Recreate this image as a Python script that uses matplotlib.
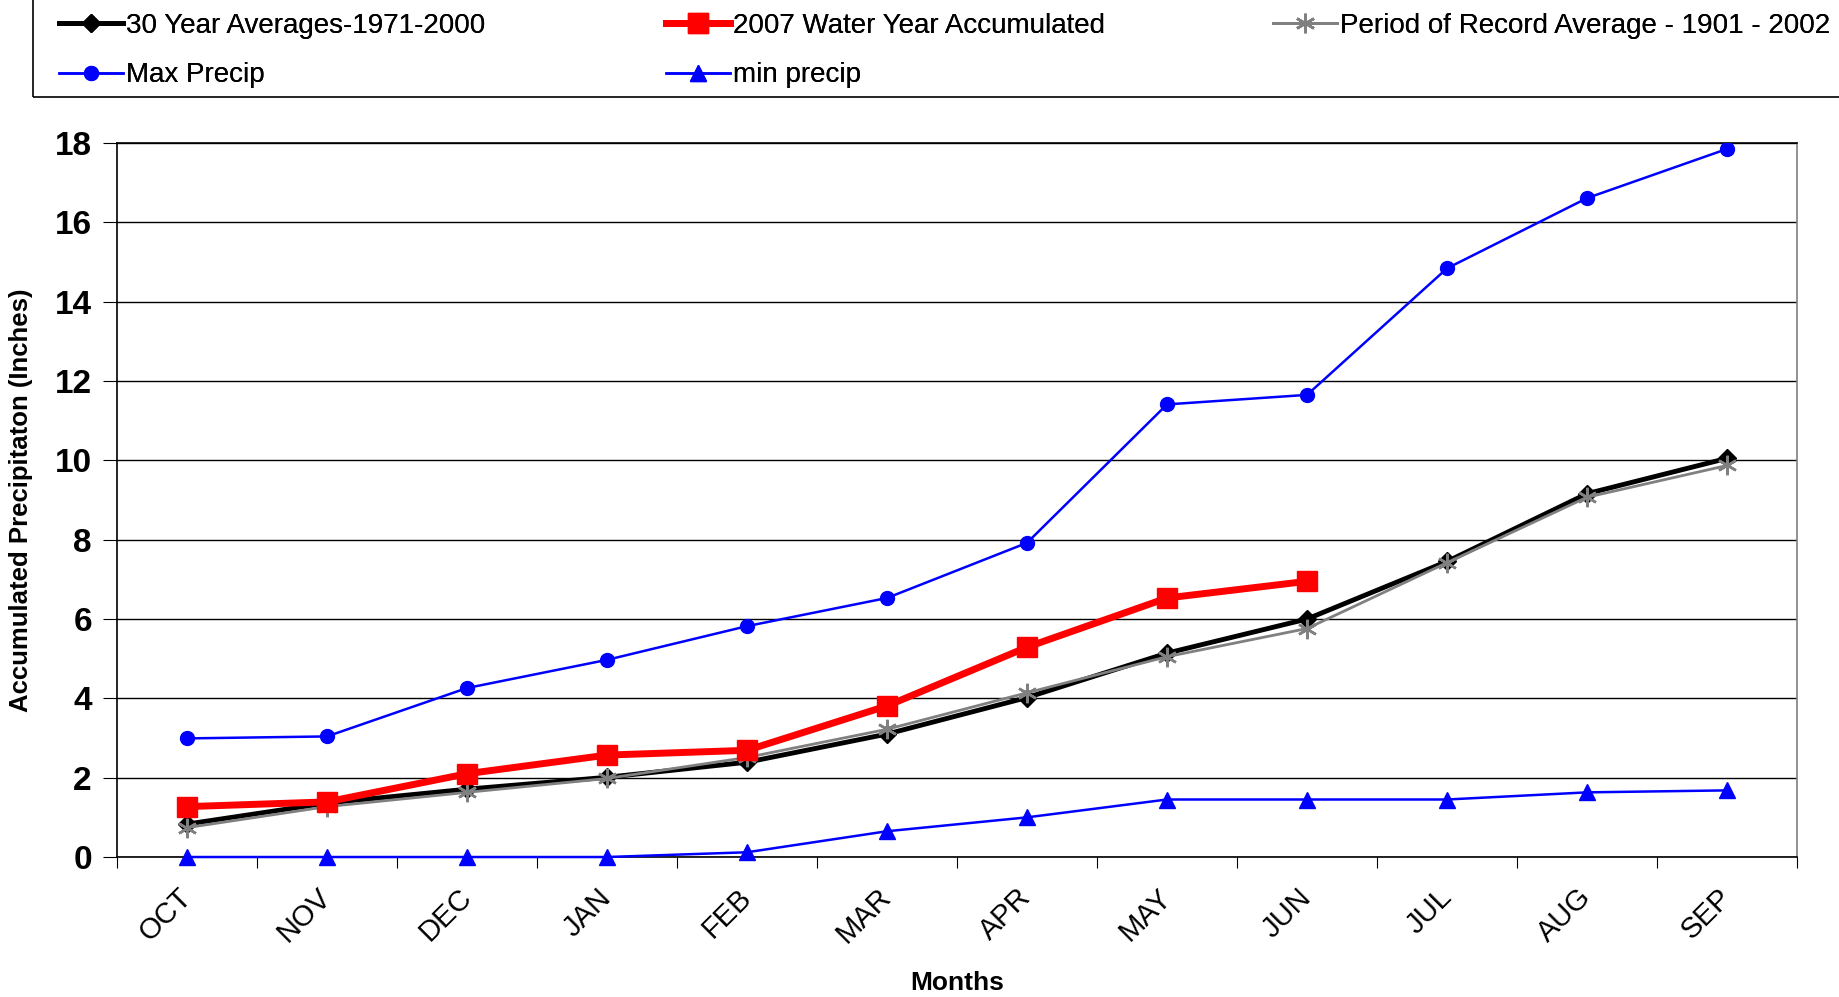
import matplotlib.pyplot as plt
import matplotlib
from matplotlib.patches import Rectangle
import matplotlib.transforms as mtransforms

matplotlib.rcParams['font.family'] = ['Liberation Sans', 'DejaVu Sans']

# data (inches, accumulated)
months = ['OCT', 'NOV', 'DEC', 'JAN', 'FEB', 'MAR', 'APR', 'MAY', 'JUN', 'JUL', 'AUG', 'SEP']
avg_30yr = [0.83, 1.36, 1.71, 2.01, 2.39, 3.10, 4.02, 5.14, 6.00, 7.45, 9.16, 10.05]
wy_2007 = [1.27, 1.39, 2.10, 2.57, 2.69, 3.81, 5.29, 6.53, 6.95]
por_avg = [0.74, 1.27, 1.63, 1.98, 2.51, 3.22, 4.14, 5.05, 5.76, 7.42, 9.07, 9.87]
max_precip = [2.99, 3.04, 4.26, 4.97, 5.82, 6.53, 7.92, 11.41, 11.65, 14.84, 16.61, 17.85]
min_precip = [0, 0, 0, 0, 0.12, 0.65, 1.00, 1.45, 1.45, 1.45, 1.63, 1.68]

fig = plt.figure(figsize=(18.39, 9.97), dpi=100)
ax = fig.add_axes([0.0636, 0.1404, 0.9136, 0.7162])

x = list(range(len(months)))
l1, = ax.plot(x, avg_30yr, color='black', lw=3.5, marker='D', ms=9, label='30 Year Averages-1971-2000', zorder=4)
l2, = ax.plot(x[:len(wy_2007)], wy_2007, color='red', lw=5, marker='s', ms=14, label='2007 Water Year Accumulated', zorder=5)
l3, = ax.plot(x, por_avg, color='gray', lw=2, marker=(6, 2, 0), ms=14, mew=1.8, label='Period of Record Average - 1901 - 2002', zorder=4)
l4, = ax.plot(x, max_precip, color='blue', lw=1.8, marker='o', ms=10, label='Max Precip', zorder=3)
l5, = ax.plot(x, min_precip, color='blue', lw=1.8, marker='^', ms=12, label='min precip', zorder=3, clip_on=False)

ax.set_xlim(-0.5, 11.5)
ax.set_ylim(0, 18)
ax.set_yticks(range(0, 19, 2))
ax.yaxis.grid(True, color='black', lw=1)
ax.set_axisbelow(True)

# category axis: ticks between categories, labels at categories
ax.set_xticks([i - 0.5 for i in range(13)])
ax.set_xticklabels([])
ax.set_xticks(x, minor=True)
ax.set_xticklabels(months, minor=True, rotation=45, fontsize=21, ha='right', va='center',
                   rotation_mode='anchor')
shift = mtransforms.ScaledTranslation(-10 / 72, 0, fig.dpi_scale_trans)
for t in ax.get_xticklabels(minor=True):
    t.set_transform(t.get_transform() + shift)
ax.tick_params(axis='x', which='minor', length=0, pad=26)
ax.tick_params(axis='x', which='major', length=8, direction='out')
ax.tick_params(axis='y', length=10, direction='out', labelsize=24, pad=8)
for t in ax.get_yticklabels():
    t.set_fontweight('heavy')
for s in ax.spines.values():
    s.set_linewidth(1.2)
ax.spines['right'].set_color('gray')

ax.set_xlabel('Months', fontsize=19, fontweight='bold', labelpad=16)
ax.set_ylabel('Accumulated Precipitaton (Inches)', fontsize=18.5, fontweight='bold', labelpad=16)

# legend box, three columns laid out like the original
fig.patches.append(Rectangle((0.018, 0.9024), 1.1, 0.2, transform=fig.transFigure,
                             fill=False, edgecolor='black', lw=1.2))
cols = [([l1, l4], 0.021), ([l2, l5], 0.351), ([l3], 0.681)]
for handles, xpos in cols:
    lg = fig.legend(handles=handles, loc='upper left', bbox_to_anchor=(xpos, 1.008), fontsize=20,
                    frameon=False, handlelength=2.3, handletextpad=0.1, labelspacing=0.85,
                    borderpad=0.25)
    fig.add_artist(lg)

plt.savefig('out.png', dpi=100)
